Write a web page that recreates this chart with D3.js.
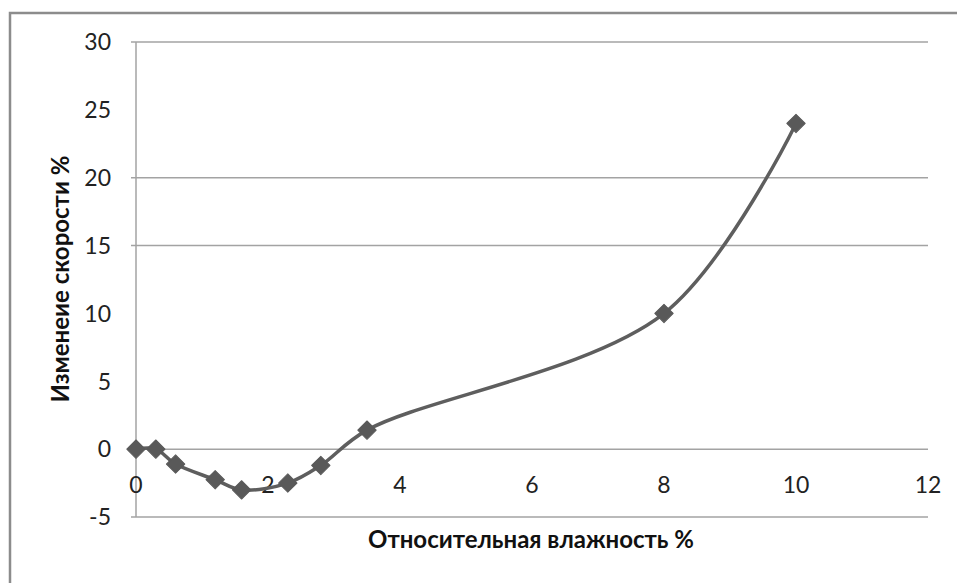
<!DOCTYPE html>
<html><head><meta charset="utf-8">
<script src="https://cdn.jsdelivr.net/npm/d3@7"></script>
<style>body{margin:0;background:#fff}svg{display:block}</style>
</head><body>
<script>
const humidity = [0, 0.3, 0.6, 1.2, 1.6, 2.3, 2.8, 3.5, 8, 10];
const speedChange = [0, 0, -1.1, -2.25, -3, -2.5, -1.2, 1.4, 10, 24];
const xTicks = [0, 2, 4, 6, 8, 10, 12];
const yTicks = [30, 25, 20, 15, 10, 5, 0, -5];
const gridValues = [30, 20, 15, -5];
const xTitle = "Относительная влажность %";
const yTitle = "Изменеие скорости %";

const W = 957, H = 583;
const svg = d3.select("body").append("svg").attr("width", W).attr("height", H);
const font = "Lato, 'Liberation Sans', sans-serif";

// outer frame
svg.append("rect").attr("x", 10).attr("y", 13).attr("width", W + 20).attr("height", H + 20)
  .attr("fill", "none").attr("stroke", "#8c8c8c").attr("stroke-width", 2.5);

const x = d3.scaleLinear().domain([0, 12]).range([136, 928]);
const y = d3.scaleLinear().domain([-5, 30]).range([517, 42]);

const gridColor = "#a3a3a3";
svg.append("g").selectAll("line").data(gridValues).join("line")
  .attr("x1", x(0) - 5).attr("x2", x(12)).attr("y1", d => y(d)).attr("y2", d => y(d))
  .attr("stroke", gridColor).attr("stroke-width", 1.5);
svg.append("line").attr("x1", x(0)).attr("x2", x(0)).attr("y1", y(30)).attr("y2", y(-5))
  .attr("stroke", gridColor).attr("stroke-width", 1.5);
svg.append("line").attr("x1", x(0)).attr("x2", x(12)).attr("y1", y(0)).attr("y2", y(0))
  .attr("stroke", gridColor).attr("stroke-width", 1.5);

svg.append("g").selectAll("text").data(yTicks).join("text")
  .attr("x", 111).attr("y", d => y(d)).attr("dy", "0.36em")
  .attr("text-anchor", "end").attr("font-family", font).attr("font-size", 23).attr("fill", "#222")
  .text(d => d);
svg.append("g").selectAll("text").data(xTicks).join("text")
  .attr("x", d => x(d)).attr("y", 493)
  .attr("text-anchor", "middle").attr("font-family", font).attr("font-size", 23).attr("fill", "#222")
  .text(d => d);

svg.append("text").attr("x", 531).attr("y", 548).attr("text-anchor", "middle")
  .attr("font-family", font).attr("font-weight", "bold").attr("font-size", 24).attr("fill", "#111")
  .text(xTitle);
svg.append("text").attr("transform", "translate(69,279) rotate(-90)").attr("text-anchor", "middle")
  .attr("font-family", font).attr("font-weight", "bold").attr("font-size", 24).attr("fill", "#111")
  .text(yTitle);

const pts = humidity.map((h, i) => [h, speedChange[i]]);
const line = d3.line().x(d => x(d[0])).y(d => y(d[1])).curve(d3.curveCatmullRom.alpha(0.5));
svg.append("path").datum(pts).attr("d", line).attr("fill", "none")
  .attr("stroke", "#5e5e5e").attr("stroke-width", 3.5);

svg.append("g").selectAll("path").data(pts).join("path")
  .attr("transform", d => `translate(${x(d[0])},${y(d[1])}) rotate(45)`)
  .attr("d", "M-6.5,-6.5H6.5V6.5H-6.5Z").attr("fill", "#595959")
  .attr("stroke", "#595959").attr("stroke-width", 1).attr("stroke-linejoin", "round");
</script>
</body></html>
